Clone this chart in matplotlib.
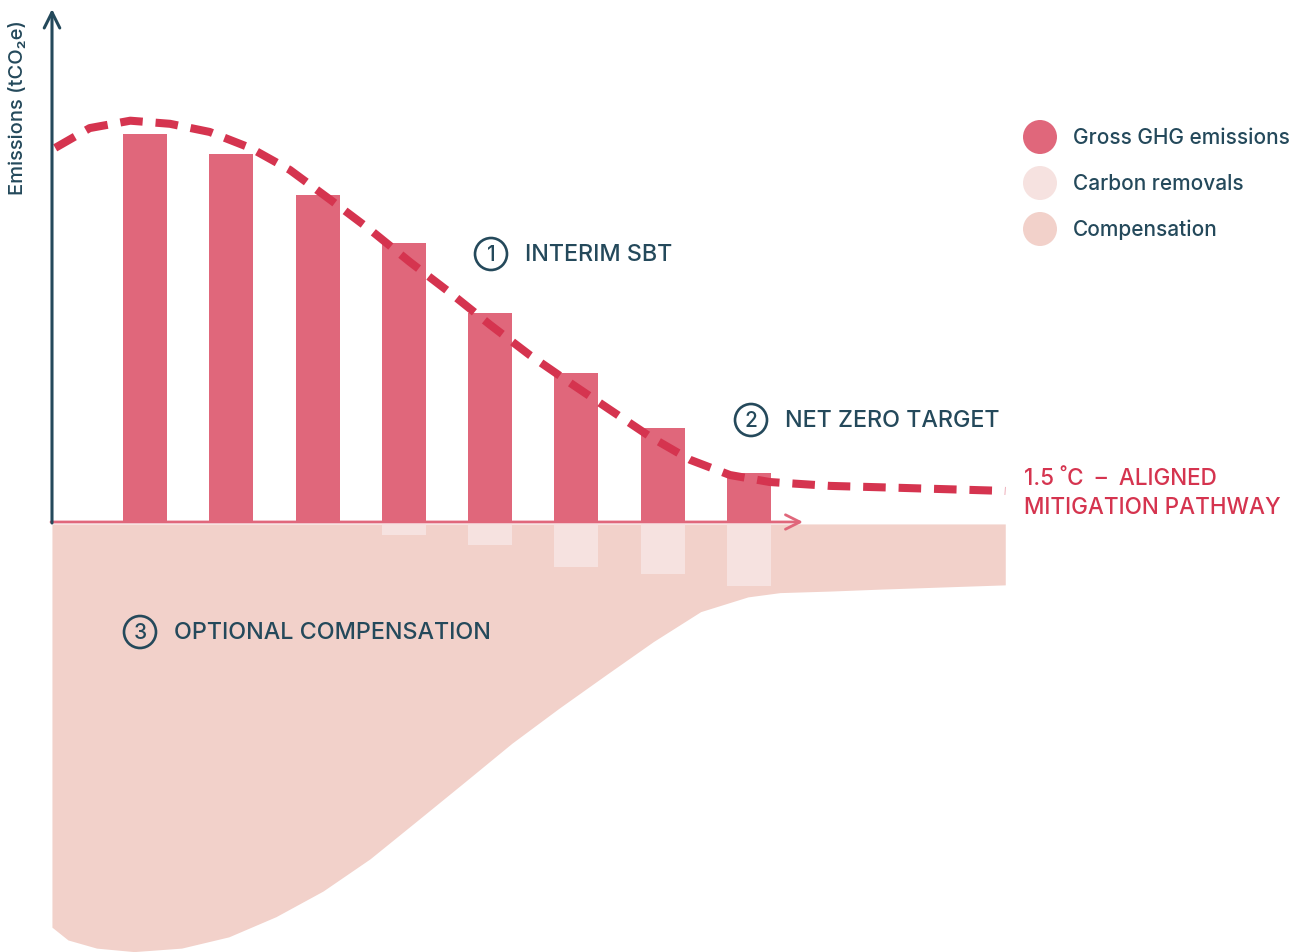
import numpy as np
import matplotlib.pyplot as plt
from matplotlib.patches import Ellipse

plt.rcParams['font.family'] = ['Inter', 'DejaVu Sans']

# bars: gross emissions and carbon removals (relative units, first bar = 100)
periods = [1, 2, 3, 4, 5, 6, 7, 8]
gross = [100, 94.8, 84.3, 71.9, 53.9, 38.4, 24.2, 12.6]
removals = [0, 0, 0, 2.8, 5.4, 11.1, 12.9, 16.0]

# 1.5C pathway (dashed line)
path_x = [-0.04, 0.36, 0.83, 1.29, 1.75, 2.22, 2.68, 3.15, 3.61, 4.07, 4.54, 5.0,
          5.46, 5.93, 6.39, 6.86, 7.32, 7.78, 8.24, 8.94, 9.75, 10.97]
path_y = [96.4, 101.5, 103.4, 102.6, 100.5, 96.4, 90.7, 83.0, 75.3, 67.0, 59.0, 50.8,
          43.0, 35.8, 28.9, 21.9, 16.0, 12.1, 10.3, 9.3, 8.8, 8.0]

# optional compensation (lower edge of the shaded area)
comp_x = [-0.078, 0.108, 0.439, 0.873, 1.424, 1.971, 2.518, 3.063, 3.608, 4.158,
          4.705, 5.253, 5.798, 6.342, 6.893, 7.44, 7.988, 8.359, 8.94, 9.52, 10.97]
comp_y = [-104.4, -107.7, -109.8, -110.7, -109.8, -106.9, -101.7, -95.1, -86.8, -76.9,
          -67.0, -57.0, -48.0, -39.4, -30.8, -23.1, -19.3, -18.2, -17.8, -17.3, -16.2]

bar_col = '#e0677b'
rem_col = '#f6e2e0'
comp_col = '#f2d1ca'
line_col = '#d5344f'
navy = '#24495b'

W, H = 1309, 952
fig = plt.figure(figsize=(W / 100, H / 100), dpi=100)
ax = fig.add_axes([0, 0, 1, 1])
ax.axis('off')
# x: one unit per period, y: emissions units
ax.set_xlim(-0.680, 14.49)
ax.set_ylim(-110.8, 134.5)

def px(x, y):
    return (x / W, 1 - y / H)

def ring(cx, cy, r, **kw):
    fig.patches.append(Ellipse(px(cx, cy), 2 * r / W, 2 * r / H,
                               transform=fig.transFigure, **kw))

# compensation area
ax.fill_between(comp_x, comp_y, -0.5, color=comp_col, lw=0, zorder=1)

# bars
ax.bar(periods, gross, width=0.51, color=bar_col, zorder=3)
ax.bar(periods, [-r for r in removals], bottom=-0.5, width=0.51, color=rem_col, zorder=2)

# pathway
ax.plot(path_x, path_y, color=line_col, lw=5.8, dashes=(2.8, 1.6), zorder=4)

# axes arrows
ax.annotate('', xy=px(52, 9), xytext=px(52, 523), xycoords='figure fraction',
            textcoords='figure fraction',
            arrowprops=dict(arrowstyle='->', color=navy, lw=2.2, mutation_scale=28,
                            shrinkA=0, shrinkB=0), zorder=5)
ax.annotate('', xy=px(803, 522), xytext=px(51, 522), xycoords='figure fraction',
            textcoords='figure fraction',
            arrowprops=dict(arrowstyle='->', color=bar_col, lw=2, mutation_scale=26,
                            shrinkA=0, shrinkB=0), zorder=2.5)

fig.text(*px(18, 108), 'Emissions (tCO\u2082e)', rotation=90, ha='center', va='center',
         fontsize=14.5, color=navy, fontweight='medium')

# numbered labels
labels = [(491, 254, '1', 'INTERIM SBT'),
          (751, 420, '2', 'NET ZERO TARGET'),
          (140, 632, '3', 'OPTIONAL COMPENSATION')]
for cx, cy, num, txt in labels:
    ring(cx, cy, 16, fill=False, ec=navy, lw=1.9)
    fig.text(*px(cx, cy + 1), num, ha='center', va='center', fontsize=15,
             color=navy, fontweight='medium')
    fig.text(*px(cx + 34, cy + 1), txt, ha='left', va='center', fontsize=16.8,
             color=navy, fontweight='medium')

# pathway label
fig.text(*px(1024, 485), '1.5 \u02daC  \u2013  ALIGNED', ha='left', va='baseline',
         fontsize=16.2, color=line_col, fontweight='medium')
fig.text(*px(1024, 514), 'MITIGATION PATHWAY', ha='left', va='baseline',
         fontsize=16.2, color=line_col, fontweight='medium')

# legend
legend_items = [('Gross GHG emissions', bar_col), ('Carbon removals', rem_col),
                ('Compensation', comp_col)]
for i, (name, col) in enumerate(legend_items):
    y = 137 + 46 * i
    ring(1040, y, 17, color=col, lw=0)
    fig.text(*px(1073, y + 1), name, ha='left', va='center', fontsize=15,
             color=navy, fontweight='medium')

fig.savefig('out.png', dpi=100)
